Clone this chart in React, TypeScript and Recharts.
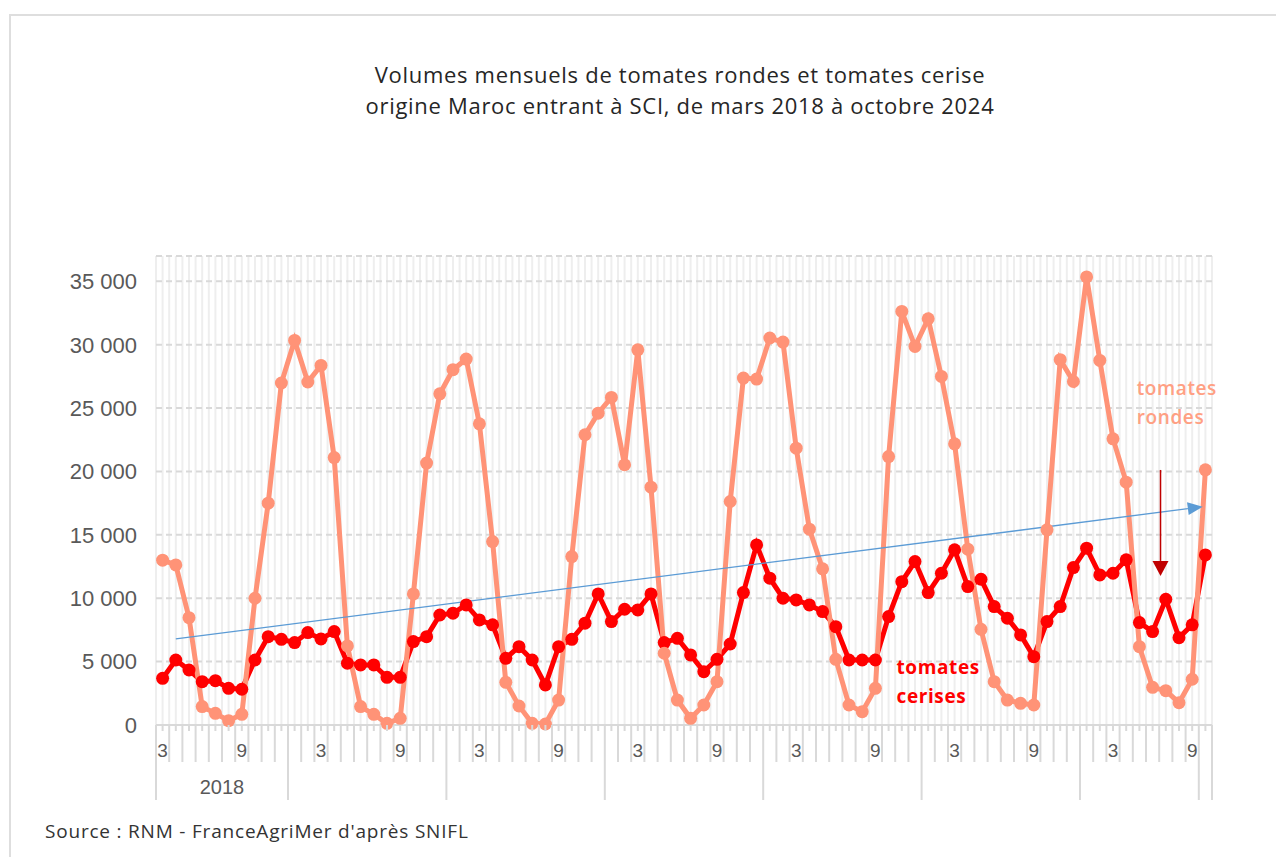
import { CartesianGrid, Line, LineChart, ReferenceDot, ReferenceLine, XAxis, YAxis } from 'recharts'

const START_YEAR = 2018
const START_MONTH = 3

// tonnes per month, Mar 2018 -> Oct 2024
const rondes = [
  13000, 12630, 8470, 1450, 920, 340, 840, 10000, 17500, 26980,
  30340, 27060, 28370, 21100, 6240, 1450, 840, 130, 530, 10340, 20660, 26130,
  28030, 28870, 23760, 14470, 3370, 1500, 130, 80, 1970, 13290, 22900, 24600,
  25840, 20530, 29600, 18760, 5660, 1970, 530, 1580, 3420, 17630, 27370, 27290,
  30530, 30210, 21840, 15450, 12320, 5180, 1580, 1050, 2890, 21180, 32630, 29870,
  32050, 27500, 22180, 13870, 7550, 3420, 1970, 1710, 1580, 15400, 28820, 27100,
  35350, 28760, 22580, 19160, 6180, 2970, 2710, 1760, 3610, 20130,
]
const cerises = [
  3680, 5130, 4340, 3420, 3500, 2890, 2820, 5130, 6970, 6760,
  6500, 7290, 6790, 7370, 4870, 4740, 4740, 3760, 3760, 6580, 6970, 8680,
  8820, 9470, 8290, 7900, 5260, 6180, 5130, 3160, 6180, 6760, 8030, 10340,
  8160, 9130, 9080, 10340, 6500, 6840, 5530, 4210, 5180, 6390, 10450, 14210,
  11580, 10000, 9870, 9470, 8950, 7760, 5130, 5130, 5130, 8550, 11310, 12890,
  10450, 11970, 13820, 10920, 11500, 9340, 8420, 7110, 5390, 8160, 9340, 12420,
  13950, 11840, 11970, 13030, 8080, 7370, 9920, 6890, 7900, 13420,
]
const monthTickLabels = ['3', '9']
const yearLabels = ['2018', '', '', '', '', '', '']
const yTicks = [0, 5000, 10000, 15000, 20000, 25000, 30000, 35000]

// annotations, in (month index, volume)
const trendArrow = [{ x: 1, y: 6790 }, { x: 78.8, y: 17220 }]
const dropArrow = [{ x: 75.6, y: 20120 }, { x: 75.6, y: 11760 }]
const rondesLabel = { x: 73.8, y: 26590 }
const cerisesLabel = { x: 55.6, y: 4575 }

const rows = rondes.map((r, i) => ({
  i,
  month: ((START_MONTH - 1 + i) % 12) + 1,
  year: START_YEAR + Math.floor((START_MONTH - 1 + i) / 12),
  rondes: r,
  cerises: cerises[i],
}))
const last = rows.length - 1
const xTicks = Array.from({ length: rows.length * 2 + 1 }, (_, k) => -0.5 + k * 0.5)

const yearCenters = yearLabels.map((_, k) => {
  const idx = rows.filter((r) => r.year === START_YEAR + k).map((r) => r.i)
  return (idx[0] + idx[idx.length - 1]) / 2
})

const AXIS_GREY = '#d9d9d9'
const TEXT_GREY = '#595959'
const RONDES = '#ff9377'
const CERISES = '#ff0000'

function isSeparator(t: number) {
  if (t === -0.5 || t === last + 0.5 || t === last - 0.5) return true
  const next = rows[t + 0.5]
  return Number.isInteger(t + 0.5) && next && next.month === 1
}

function MonthTick(props: any) {
  const { x, y, payload } = props
  const t = payload.value as number
  const half = !Number.isInteger(t)
  const len = half ? (isSeparator(t) ? 75 : 37) : 6
  const row = half ? null : rows[t]
  const label = row && monthTickLabels.includes(String(row.month)) ? String(row.month) : ''
  const yearIdx = yearCenters.indexOf(t)
  return (
    <g>
      <line x1={x} x2={x} y1={y} y2={y + len} stroke={AXIS_GREY} strokeWidth={2} />
      {label && (
        <text x={x} y={y + 32} textAnchor="middle" fontSize={19} fill={TEXT_GREY} fontFamily="Liberation Sans, Arial, sans-serif">
          {label}
        </text>
      )}
      {yearIdx >= 0 && yearLabels[yearIdx] && (
        <text x={x} y={y + 69} textAnchor="middle" fontSize={20} fill={TEXT_GREY} fontFamily="Liberation Sans, Arial, sans-serif">
          {yearLabels[yearIdx]}
        </text>
      )}
    </g>
  )
}

function arrowShape(color: string, width: number, headLen: number, headW: number) {
  return (p: any) => {
    const { x1, y1, x2, y2 } = p
    const a = Math.atan2(y2 - y1, x2 - x1)
    const bx = x2 - headLen * Math.cos(a)
    const by = y2 - headLen * Math.sin(a)
    const nx = (-Math.sin(a) * headW) / 2
    const ny = (Math.cos(a) * headW) / 2
    return (
      <g>
        <line x1={x1} y1={y1} x2={bx} y2={by} stroke={color} strokeWidth={width} />
        <polygon points={`${x2},${y2} ${bx + nx},${by + ny} ${bx - nx},${by - ny}`} fill={color} />
      </g>
    )
  }
}

function twoLineLabel(lines: string[], color: string, weight: number) {
  return (p: any) => (
    <text x={p.cx} y={p.cy} fill={color} fontSize={19} fontWeight={weight} fontFamily="Open Sans, sans-serif" letterSpacing={0.6}>
      {lines.map((l, k) => (
        <tspan key={k} x={p.cx} dy={k === 0 ? 7 : 29}>
          {l}
        </tspan>
      ))}
    </text>
  )
}

const fmt = (v: number) => String(v).replace(/\B(?=(\d{3})+(?!\d))/g, ' ')

export default function App() {
  return (
    <div style={{ position: 'absolute', left: 0, top: 0, width: 1276, height: 857, background: '#fff', overflow: 'hidden' }}>
      <div style={{ position: 'absolute', left: 9, top: 14, width: 1300, height: 900, borderLeft: '2px solid #dedede', borderTop: '2px solid #dedede' }} />
      <div
        style={{
          position: 'absolute', left: 180, top: 59, width: 1000, textAlign: 'center',
          fontFamily: 'Open Sans, sans-serif', fontSize: 22, letterSpacing: 0.7, lineHeight: '31px', color: '#262626',
        }}
      >
        Volumes mensuels de tomates rondes et tomates cerise
        <br />
        origine Maroc entrant à SCI, de mars 2018 à octobre 2024
      </div>
      <div style={{ position: 'absolute', left: 45, top: 818, fontFamily: 'Open Sans, sans-serif', fontSize: 19, letterSpacing: 0.8, color: '#333' }}>
        Source : RNM - FranceAgriMer d'après SNIFL
      </div>
      <div style={{ position: 'absolute', left: 0, top: 0 }}>
        <LineChart width={1276} height={857} data={rows} margin={{ top: 256, right: 64, bottom: 52, left: 0 }}>
          <CartesianGrid horizontal={false} stroke="#eeeeee" strokeWidth={2} />
          <CartesianGrid vertical={false} stroke={AXIS_GREY} strokeWidth={2} strokeDasharray="6 4" />
          <XAxis
            dataKey="i"
            type="number"
            domain={[-0.5, last + 0.5]}
            ticks={xTicks}
            interval={0}
            height={80}
            tickSize={0}
            tickMargin={0}
            tickLine={false}
            axisLine={{ stroke: AXIS_GREY, strokeWidth: 2 }}
            tick={<MonthTick />}
          />
          <YAxis
            domain={[0, 37000]}
            ticks={yTicks}
            width={156}
            axisLine={false}
            tickLine={false}
            tickSize={0}
            tickMargin={19}
            tickFormatter={fmt}
            tick={{ fontSize: 22, fill: TEXT_GREY, fontFamily: 'Liberation Sans, Arial, sans-serif' }}
          />
          <Line dataKey="cerises" stroke={CERISES} strokeWidth={5} dot={{ r: 6.5, fill: CERISES, stroke: CERISES, strokeWidth: 0 }} isAnimationActive={false} />
          <Line dataKey="rondes" stroke={RONDES} strokeWidth={5} dot={{ r: 6.5, fill: RONDES, stroke: RONDES, strokeWidth: 0 }} isAnimationActive={false} />
          <ReferenceLine segment={trendArrow} shape={arrowShape('#5b9bd5', 1.3, 15, 13)} />
          <ReferenceLine segment={dropArrow} shape={arrowShape('#c00000', 1.5, 15, 16)} />
          <ReferenceDot x={rondesLabel.x} y={rondesLabel.y} r={0} shape={twoLineLabel(['tomates', 'rondes'], '#ffa083', 600)} />
          <ReferenceDot x={cerisesLabel.x} y={cerisesLabel.y} r={0} shape={twoLineLabel(['tomates', 'cerises'], CERISES, 700)} />
        </LineChart>
      </div>
    </div>
  )
}
